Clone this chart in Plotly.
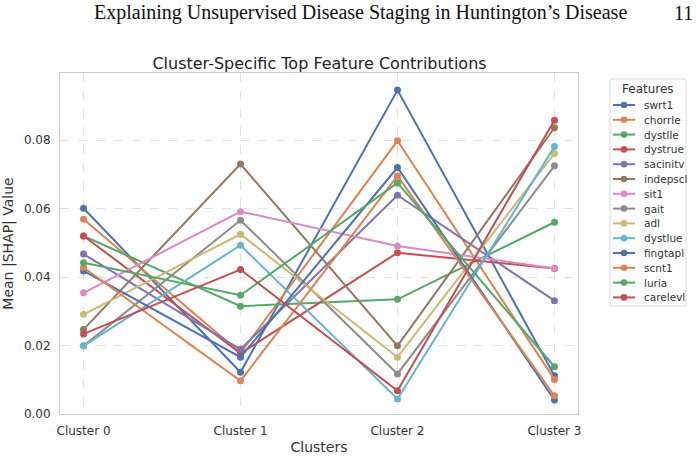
import plotly.graph_objects as go

clusters = ["Cluster 0", "Cluster 1", "Cluster 2", "Cluster 3"]
features = ["swrt1", "chorrle", "dystlle", "dystrue", "sacinitv", "indepscl", "sit1",
            "gait", "adl", "dystlue", "fingtapl", "scnt1", "luria", "carelevl"]

swrt1 = [0.0601, 0.0122, 0.0946, 0.0112]
chorrle = [0.0569, 0.0178, 0.0798, 0.0101]
dystlle = [0.0520, 0.0315, 0.0335, 0.0560]
dystrue = [0.0520, 0.0177, 0.0471, 0.0425]
sacinitv = [0.0467, 0.0189, 0.0639, 0.0331]
indepscl = [0.0247, 0.0730, 0.0199, 0.0836]
sit1 = [0.0354, 0.0591, 0.0491, 0.0425]
gait = [0.0199, 0.0566, 0.0117, 0.0725]
adl = [0.0291, 0.0525, 0.0166, 0.0761]
dystlue = [0.0199, 0.0493, 0.0044, 0.0781]
fingtapl = [0.0418, 0.0166, 0.0720, 0.0041]
scnt1 = [0.0428, 0.0097, 0.0695, 0.0053]
luria = [0.0442, 0.0347, 0.0675, 0.0138]
carelevl = [0.0234, 0.0422, 0.0068, 0.0858]

series = [swrt1, chorrle, dystlle, dystrue, sacinitv, indepscl, sit1,
          gait, adl, dystlue, fingtapl, scnt1, luria, carelevl]

palette = ["#4C72B0", "#DD8452", "#55A868", "#C44E52", "#8172B3", "#937860",
           "#DA8BC3", "#8C8C8C", "#CCB974", "#64B5CD"]

yticks = [0.0, 0.02, 0.04, 0.06, 0.08]

W, H = 697, 459
L, R, T, B = 60, 578, 73, 414


def px(xp):
    return (xp - L) / (R - L)


def py(yp):
    return (B - yp) / (B - T)


fig = go.Figure()
for i, (name, vals) in enumerate(zip(features, series)):
    c = palette[i % len(palette)]
    fig.add_trace(go.Scatter(
        x=clusters, y=vals, name=name, mode="lines+markers",
        line=dict(color=c, width=2), marker=dict(color=c, size=7),
        showlegend=False,
    ))

font = "DejaVu Sans, sans-serif"
txt = "#333333"

shapes = []
annotations = []

# manual legend (matplotlib-like compact layout)
shapes.append(dict(type="rect", xref="paper", yref="paper",
                   x0=px(610), x1=px(686), y0=py(306), y1=py(79),
                   line=dict(color="#d9d9d9", width=1), fillcolor="white", layer="below"))
annotations.append(dict(text="Features", xref="paper", yref="paper", x=px(648), y=py(89),
                        xanchor="center", yanchor="middle", showarrow=False,
                        font=dict(size=12, color=txt, family=font)))
for i, name in enumerate(features):
    c = palette[i % len(palette)]
    yy = 105 + 14.8 * i
    shapes.append(dict(type="line", xref="paper", yref="paper",
                       x0=px(613), x1=px(635), y0=py(yy), y1=py(yy),
                       line=dict(color=c, width=2)))
    shapes.append(dict(type="circle", xref="paper", yref="paper",
                       x0=px(624 - 3.3), x1=px(624 + 3.3), y0=py(yy + 3.3), y1=py(yy - 3.3),
                       line=dict(color=c, width=0), fillcolor=c))
    annotations.append(dict(text=name, xref="paper", yref="paper", x=px(642), y=py(yy),
                            xanchor="left", yanchor="middle", showarrow=False,
                            font=dict(size=10.5, color=txt, family=font)))

annotations.append(dict(text="Explaining Unsupervised Disease Staging in Huntington’s Disease",
                        xref="paper", yref="paper", x=px(360), xanchor="center",
                        y=py(13), yanchor="middle", showarrow=False,
                        font=dict(family="Liberation Serif, serif", size=20, color="#111111")))
annotations.append(dict(text="11", xref="paper", yref="paper", x=px(683), xanchor="center",
                        y=py(13), yanchor="middle", showarrow=False,
                        font=dict(family="Liberation Serif, serif", size=20, color="#111111")))

fig.update_layout(
    width=W, height=H,
    margin=dict(l=L, r=W - R, t=T, b=H - B, autoexpand=False),
    paper_bgcolor="white", plot_bgcolor="white",
    font=dict(family=font, color=txt, size=12),
    title=dict(text="Cluster-Specific Top Feature Contributions",
               x=319.5 / W, xanchor="center", y=1 - 63 / H, yanchor="middle",
               font=dict(size=16, color="#222222")),
    showlegend=False,
    xaxis=dict(
        type="category", range=[-0.15, 3.15],
        showline=True, linecolor="#cccccc", linewidth=1, mirror=True,
        showgrid=True, gridcolor="#e3e3e3", griddash="dash", gridwidth=1,
        ticks="outside", ticklen=6, tickcolor="rgba(0,0,0,0)",
        tickfont=dict(size=12, color=txt),
        title=dict(text="Clusters", font=dict(size=14, color=txt), standoff=4),
    ),
    yaxis=dict(
        range=[0, 0.0996], tickvals=yticks, tickformat=".2f",
        showline=True, linecolor="#cccccc", linewidth=1, mirror=True,
        showgrid=True, gridcolor="#e3e3e3", griddash="dash", gridwidth=1,
        zeroline=False, ticks="outside", ticklen=6, tickcolor="rgba(0,0,0,0)",
        tickfont=dict(size=12, color=txt),
        title=dict(text="Mean |SHAP| Value", font=dict(size=14, color=txt), standoff=6),
    ),
    shapes=shapes,
    annotations=annotations,
)
fig.write_html("out.html")
